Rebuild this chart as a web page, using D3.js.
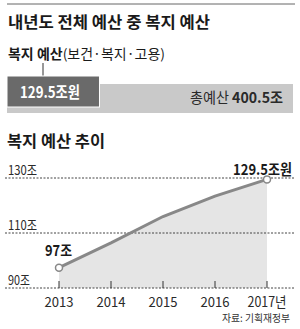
<!DOCTYPE html>
<html>
<head>
<meta charset="utf-8">
<script src="https://cdn.jsdelivr.net/npm/d3@7.9.0/dist/d3.min.js"></script>
<style>
  body { margin: 0; background: #fff; }
  svg { display: block; font-family: "Noto Sans CJK KR", "Noto Sans", sans-serif; }
</style>
</head>
<body>
<svg id="chart" width="300" height="329"></svg>
<script>
// 상단 막대 (조원)
const welfareBudget = 129.5;
const totalBudget = 400.5;

// 추이
const years = ['2013', '2014', '2015', '2016', '2017'];
const yearLabels = ['2013', '2014', '2015', '2016', '2017년'];
const welfare = [97.4, 106.4, 116, 123.4, 129.5];
const yTicks = [90, 110, 130];

const svg = d3.select('#chart');

// top rule
svg.append('line')
  .attr('x1', 7).attr('x2', 295).attr('y1', 4).attr('y2', 4)
  .attr('stroke', '#666').attr('stroke-width', 1);

function label(x, y, txt, size, weight, color, len, anchor) {
  const t = svg.append('text')
    .attr('x', x).attr('y', y)
    .attr('font-size', size)
    .attr('font-weight', weight)
    .attr('fill', color)
    .attr('text-anchor', anchor || 'start')
    .text(txt);
  if (len) t.attr('textLength', len).attr('lengthAdjust', 'spacingAndGlyphs');
  return t;
}

label(8, 28, '내년도 전체 예산 중 복지 예산', 16, 'bold', '#1a1a1a', 202);

const sub = svg.append('text').attr('x', 8).attr('y', 59)
  .attr('font-size', 13.5).attr('fill', '#1a1a1a')
  .attr('textLength', 157).attr('lengthAdjust', 'spacingAndGlyphs');
sub.append('tspan').attr('font-weight', 'bold').text('복지 예산');
sub.append('tspan').text('(보건·복지·고용)');

// budget bar
const xb = d3.scaleLinear().domain([0, totalBudget]).range([7, 293]);

svg.append('rect')
  .attr('x', xb(0)).attr('y', 84)
  .attr('width', xb(totalBudget) - xb(0)).attr('height', 29)
  .attr('fill', '#c9c9c9');

svg.append('line')
  .attr('x1', 43).attr('x2', 43).attr('y1', 63).attr('y2', 77)
  .attr('stroke', '#333').attr('stroke-width', 1);

svg.append('rect')
  .attr('x', xb(0)).attr('y', 76)
  .attr('width', xb(welfareBudget) - xb(0)).attr('height', 31)
  .attr('fill', '#6a6a6a')
  .attr('stroke', '#fff').attr('stroke-width', 1);

label(20, 98, '129.5조원', 15.5, 'bold', '#fff', 60);

const tot = svg.append('text').attr('x', 283).attr('y', 103)
  .attr('text-anchor', 'end')
  .attr('font-size', 14.5).attr('fill', '#2a2a2a')
  .attr('textLength', 93).attr('lengthAdjust', 'spacingAndGlyphs');
tot.append('tspan').text('총예산 ');
tot.append('tspan').attr('font-weight', 'bold').text('400.5조');

// trend chart
label(7, 147, '복지 예산 추이', 16, 'bold', '#1a1a1a', 98);

const x = d3.scalePoint().domain(years).range([59, 267]);
const y = d3.scaleLinear().domain([90, 130]).range([288, 178]);

const pts = years.map((yr, i) => ({ yr, v: welfare[i] }));

svg.append('path')
  .datum(pts)
  .attr('fill', '#e5e5e5')
  .attr('d', d3.area().x(d => x(d.yr)).y0(y(90)).y1(d => y(d.v)));

// gridlines
yTicks.forEach(t => {
  svg.append('line')
    .attr('x1', 5).attr('x2', 294)
    .attr('y1', y(t)).attr('y2', y(t))
    .attr('stroke', '#444').attr('stroke-width', 1)
    .attr('stroke-dasharray', '2,1.5');
  label(8, y(t) - 3, t + '조', 13, 'normal', '#2a2a2a', t >= 100 ? 29 : 22);
});

// ticks on baseline
years.forEach(yr => {
  svg.append('line')
    .attr('x1', x(yr)).attr('x2', x(yr))
    .attr('y1', 281).attr('y2', y(90))
    .attr('stroke', '#333').attr('stroke-width', 1);
});

svg.append('path')
  .datum(pts)
  .attr('fill', 'none')
  .attr('stroke', '#888')
  .attr('stroke-width', 3)
  .attr('d', d3.line().x(d => x(d.yr)).y(d => y(d.v)));

[pts[0], pts[pts.length - 1]].forEach(d => {
  svg.append('circle')
    .attr('cx', x(d.yr)).attr('cy', y(d.v)).attr('r', 3.5)
    .attr('fill', '#fff').attr('stroke', '#888').attr('stroke-width', 1.5);
});

label(45, 256, '97조', 15, 'bold', '#1a1a1a', 27);
label(292, 175, '129.5조원', 15, 'bold', '#1a1a1a', 59, 'end');

// year labels
years.forEach((yr, i) => {
  label(x(yr), 307, yearLabels[i], 14, 'normal', '#2a2a2a', i === 4 ? 39 : 29, 'middle');
});

label(290, 322, '자료: 기획재정부', 10.5, 'normal', '#333', 68, 'end');
</script>
</body>
</html>
